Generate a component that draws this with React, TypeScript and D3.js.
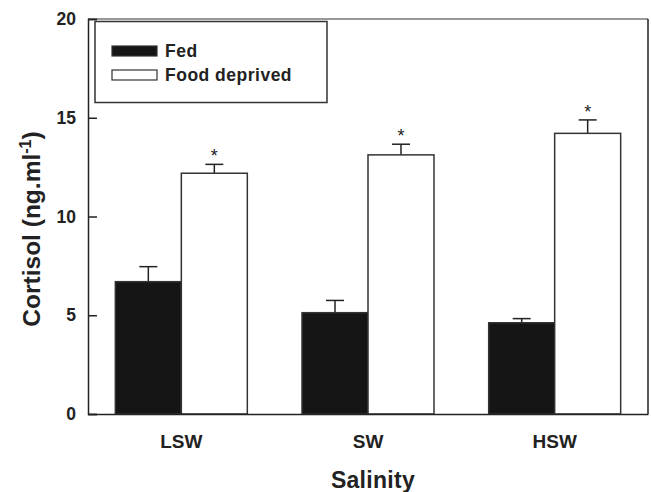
import React, { useEffect, useRef } from "react";
import * as d3 from "d3";

const categories = ["LSW", "SW", "HSW"];
const seriesNames = ["Fed", "Food deprived"];
const fedValues = [6.7, 5.13, 4.62];
const fedErrors = [0.76, 0.62, 0.21];
const deprivedValues = [12.19, 13.12, 14.21];
const deprivedErrors = [0.45, 0.54, 0.68];
const significant = [true, true, true];
const yTicks = [0, 5, 10, 15, 20];

const App = () => {
  const ref = useRef<SVGSVGElement | null>(null);

  useEffect(() => {
    const svg = d3.select(ref.current);
    svg.selectAll("*").remove();

    const width = 651;
    const height = 492;
    const margin = { top: 19, right: 3, bottom: 78, left: 88 };
    const innerW = width - margin.left - margin.right;
    const innerH = height - margin.top - margin.bottom;
    const font = "Liberation Sans, Arial, sans-serif";

    const g = svg.append("g").attr("transform", `translate(${margin.left},${margin.top})`);

    const x = d3.scaleBand().domain(categories).range([0, innerW]).paddingInner(0.293).paddingOuter(0.1465);
    const x1 = d3.scaleBand().domain(seriesNames).range([0, x.bandwidth()]);
    const y = d3.scaleLinear().domain([0, 20]).range([innerH, 0]);

    // frame (top lighter)
    g.append("line").attr("x1", 0).attr("x2", innerW).attr("y1", 0).attr("y2", 0).attr("stroke", "#777").attr("stroke-width", 1.5);
    g.append("line").attr("x1", innerW).attr("x2", innerW).attr("y1", 0).attr("y2", innerH).attr("stroke", "#222").attr("stroke-width", 1.5);

    const rows = categories.map((c, i) => [
      { cat: c, s: seriesNames[0], v: fedValues[i], e: fedErrors[i], fill: "#151515", star: false },
      { cat: c, s: seriesNames[1], v: deprivedValues[i], e: deprivedErrors[i], fill: "#fff", star: significant[i] },
    ]).flat();

    const bar = g.selectAll(".bar").data(rows).enter().append("g");
    const cx = (d: any) => (x(d.cat) || 0) + (x1(d.s) || 0) + x1.bandwidth() / 2;

    bar.append("line")
      .attr("x1", cx).attr("x2", cx)
      .attr("y1", (d: any) => y(d.v)).attr("y2", (d: any) => y(d.v + d.e))
      .attr("stroke", "#222").attr("stroke-width", 1.5);
    bar.append("line")
      .attr("x1", (d: any) => cx(d) - 9).attr("x2", (d: any) => cx(d) + 9)
      .attr("y1", (d: any) => y(d.v + d.e)).attr("y2", (d: any) => y(d.v + d.e))
      .attr("stroke", "#222").attr("stroke-width", 1.5);
    bar.append("rect")
      .attr("x", (d: any) => (x(d.cat) || 0) + (x1(d.s) || 0))
      .attr("width", x1.bandwidth())
      .attr("y", (d: any) => y(d.v))
      .attr("height", (d: any) => innerH - y(d.v))
      .attr("fill", (d: any) => d.fill)
      .attr("stroke", "#333").attr("stroke-width", 1.5);
    bar.filter((d: any) => d.star).append("text")
      .attr("x", cx).attr("y", (d: any) => y(d.v + d.e) - 2)
      .attr("text-anchor", "middle")
      .style("font-family", font).style("font-size", "18px").attr("fill", "#222")
      .text("*");

    // axes
    const yAxis = g.append("g").call(d3.axisLeft(y).tickValues(yTicks).tickSize(-9).tickPadding(12).tickFormat(d3.format("d")));
    yAxis.select(".domain").attr("stroke", "#222").attr("stroke-width", 1.5);
    yAxis.selectAll(".tick line").attr("stroke", "#222").attr("stroke-width", 1.5);
    yAxis.selectAll("text").style("font-family", font).style("font-size", "17.5px").style("font-weight", "bold").attr("fill", "#222");

    const xAxis = g.append("g").attr("transform", `translate(0,${innerH})`).call(d3.axisBottom(x).tickSize(0).tickPadding(21));
    xAxis.select(".domain").attr("stroke", "#222").attr("stroke-width", 1.5);
    xAxis.selectAll("text").style("font-family", font).style("font-size", "19px").style("font-weight", "bold").attr("fill", "#222");

    // axis titles
    svg.append("text")
      .attr("x", margin.left + innerW / 2 + 5).attr("y", 488)
      .attr("text-anchor", "middle")
      .style("font-family", font).style("font-size", "23px").style("font-weight", "bold")
      .style("letter-spacing", "0.3px").attr("fill", "#222")
      .text("Salinity");

    const yt = svg.append("text")
      .attr("transform", "translate(40,229) rotate(-90)")
      .attr("text-anchor", "middle")
      .style("font-family", font).style("font-size", "24.5px").style("font-weight", "bold").attr("fill", "#222");
    yt.append("tspan").text("Cortisol (ng.ml");
    yt.append("tspan").attr("dy", -9).style("font-size", "16px").text("-1");
    yt.append("tspan").attr("dy", 9).text(")");

    // legend
    const lg = g.append("g");
    lg.append("rect").attr("x", 7).attr("y", 2.5).attr("width", 232).attr("height", 81)
      .attr("fill", "#fff").attr("stroke", "#333").attr("stroke-width", 1.5);
    const fills = ["#151515", "#fff"];
    seriesNames.forEach((name, i) => {
      const yy = 27 + i * 24;
      lg.append("rect").attr("x", 24).attr("y", yy).attr("width", 45).attr("height", 10)
        .attr("fill", fills[i]).attr("stroke", "#333").attr("stroke-width", 1.2);
      lg.append("text").attr("x", 77).attr("y", yy + 10.5)
        .style("font-family", font).style("font-size", "17.5px").style("font-weight", "bold")
        .style("letter-spacing", "0.5px").attr("fill", "#222")
        .text(name);
    });
  }, []);

  return (
    <svg ref={ref} width={651} height={492} style={{ position: "absolute", left: 0, top: 0 }} />
  );
};

export default App;
